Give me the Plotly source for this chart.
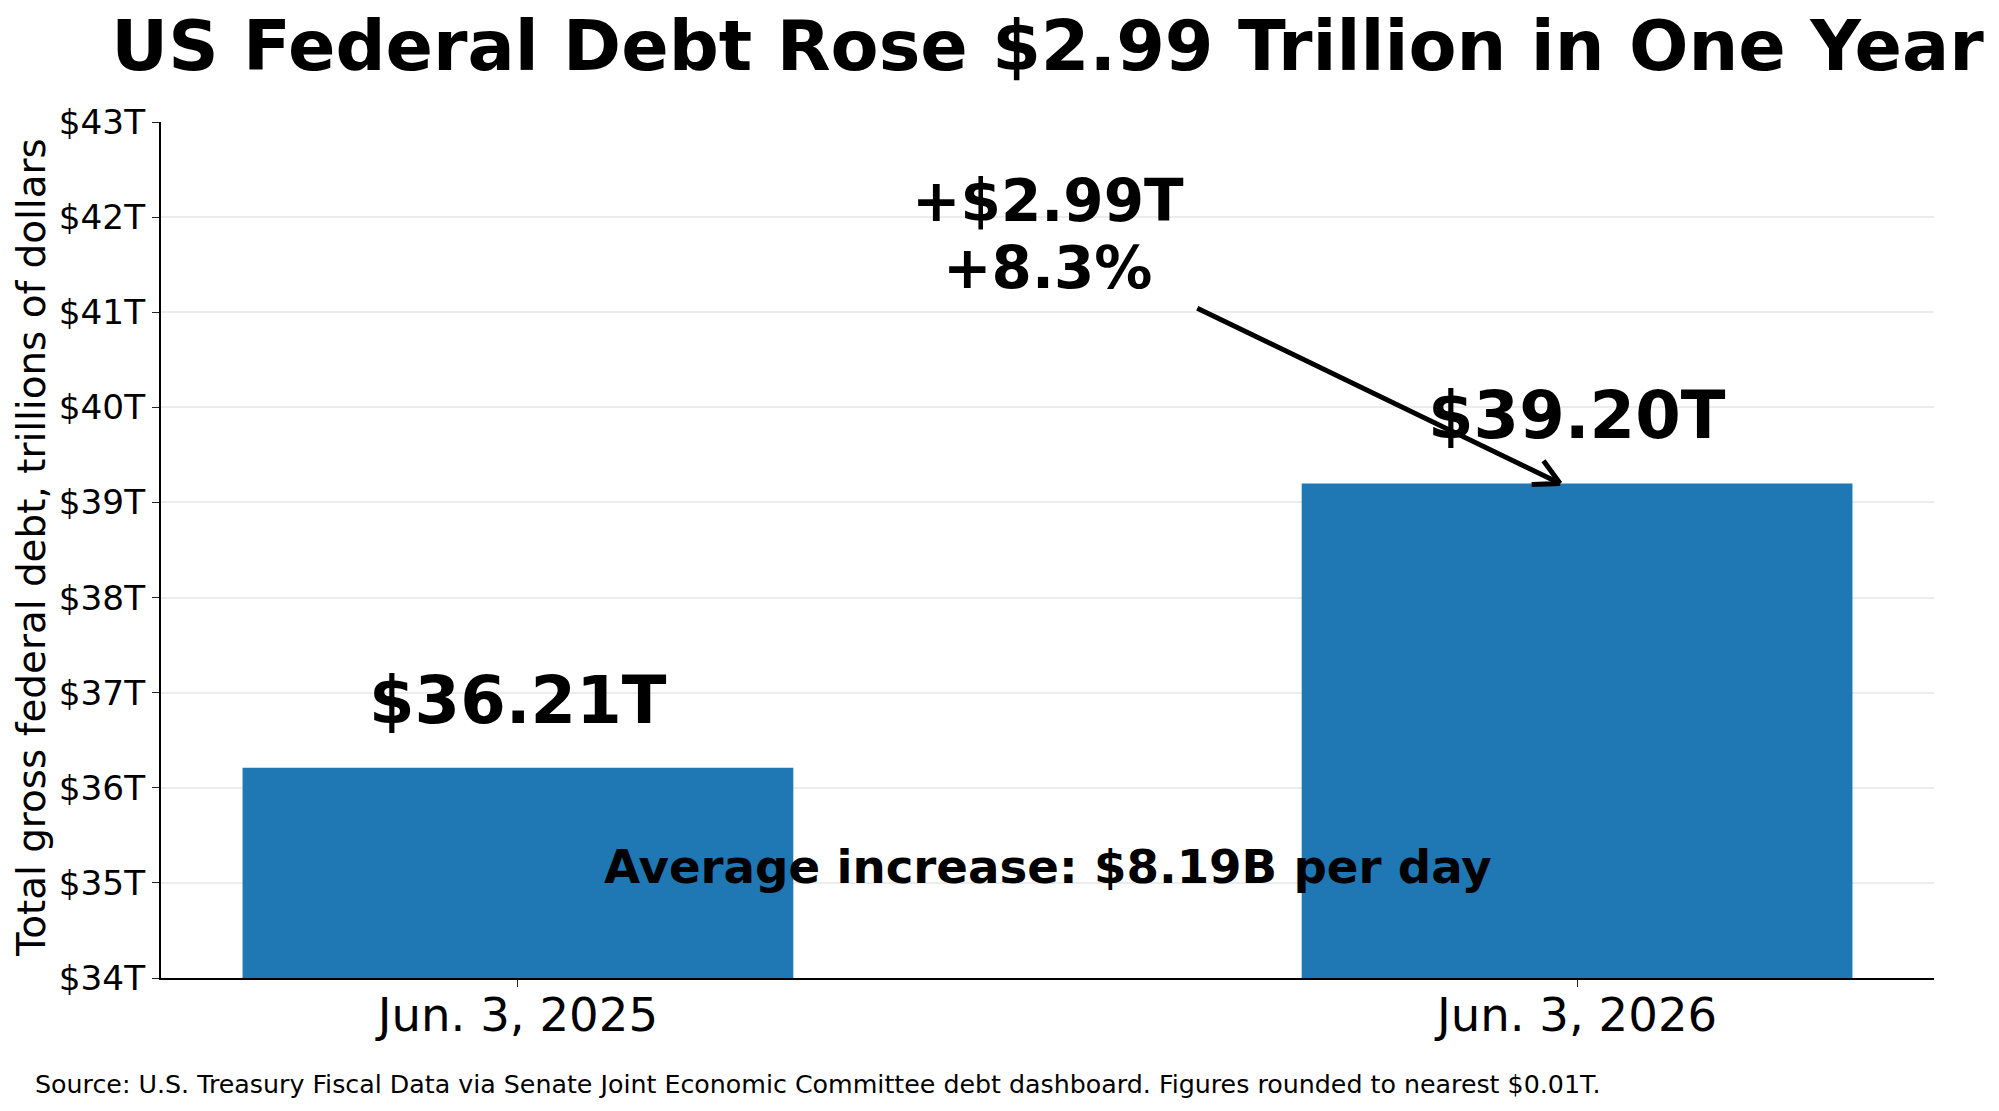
import math
import plotly.graph_objects as go

# ---- data ----
dates = ["Jun. 3, 2025", "Jun. 3, 2026"]
debt_trillions = [36.21, 39.20]
change_trillions = 2.99
change_pct = 8.3
avg_per_day_billions = 8.19
y_tick_values = [34, 35, 36, 37, 38, 39, 40, 41, 42, 43]
y_tick_labels = ["$34T", "$35T", "$36T", "$37T", "$38T", "$39T", "$40T", "$41T", "$42T", "$43T"]

title_text = "US Federal Debt Rose $2.99 Trillion in One Year"
y_title = "Total gross federal debt, trillions of dollars"
source_text = ("Source: U.S. Treasury Fiscal Data via Senate Joint Economic Committee debt "
               "dashboard. Figures rounded to nearest $0.01T.")

# ---- layout geometry ----
W, H = 1999, 1111
ML, MR, MT, MB = 161, 65, 122, 133
PW, PH = W - ML - MR, H - MT - MB
FONT = "DejaVu Sans"
BLUE = "#1f77b4"
bar_width = 0.52
x_range = [-0.337, 1.337]
y_range = [34, 43]

fig = go.Figure()
fig.add_trace(go.Bar(
    x=[0, 1], y=debt_trillions, width=bar_width,
    marker=dict(color=BLUE, line=dict(width=0)),
    base=0, hoverinfo="skip",
))

annotations = []
# value labels above bars
for i, v in enumerate(debt_trillions):
    annotations.append(dict(
        x=i, y=v, xref="x", yref="y", text=f"${v:.2f}T", showarrow=False,
        xanchor="center", yanchor="middle", yshift=68,
        font=dict(family=FONT, size=65.5, color="black", weight="bold"),
    ))

# change text
annotations.append(dict(
    x=0.5, y=42.17, xref="x", yref="y", text=f"+${change_trillions:.2f}T", showarrow=False,
    xanchor="center", yanchor="middle",
    font=dict(family=FONT, size=58, color="black", weight="bold"),
))
annotations.append(dict(
    x=0.5, y=41.47, xref="x", yref="y", text=f"+{change_pct:.1f}%", showarrow=False,
    xanchor="center", yanchor="middle",
    font=dict(family=FONT, size=58, color="black", weight="bold"),
))

# arrow
tip_x, tip_y = 0.984, debt_trillions[1]
tail_x, tail_y = 0.64, 41.05
annotations.append(dict(
    x=tip_x, y=tip_y, xref="x", yref="y", ax=tail_x, ay=tail_y, axref="x", ayref="y",
    text="", showarrow=True, arrowhead=0, arrowwidth=5, arrowcolor="black", standoff=0,
))
# open arrow head
px_per_x = PW / (x_range[1] - x_range[0])
px_per_y = PH / (y_range[1] - y_range[0])
dx = (tip_x - tail_x) * px_per_x
dy = -(tip_y - tail_y) * px_per_y
ang = math.atan2(dy, dx)
head_len = 30
for s in (+1, -1):
    a = ang + math.pi + s * math.radians(28)
    annotations.append(dict(
        x=tip_x, y=tip_y, xref="x", yref="y",
        ax=head_len * math.cos(a), ay=head_len * math.sin(a),
        text="", showarrow=True, arrowhead=0, arrowwidth=5, arrowcolor="black", standoff=0,
    ))

# average increase
annotations.append(dict(
    x=0.5, y=35.17, xref="x", yref="y",
    text=f"Average increase: ${avg_per_day_billions:.2f}B per day", showarrow=False,
    xanchor="center", yanchor="middle",
    font=dict(family=FONT, size=46.7, color="black", weight="bold"),
))

# y-axis title
annotations.append(dict(
    x=(31 - ML) / PW, y=(H - MB - 548) / PH, xref="paper", yref="paper",
    text=y_title, showarrow=False, textangle=-90,
    xanchor="center", yanchor="middle",
    font=dict(family=FONT, size=38.9, color="black"),
))

# source
annotations.append(dict(
    x=(33 - ML) / PW, y=(H - MB - 1084) / PH, xref="paper", yref="paper",
    text=source_text, showarrow=False, xanchor="left", yanchor="middle",
    font=dict(family=FONT, size=25.3, color="black"),
))

fig.update_layout(
    width=W, height=H,
    margin=dict(l=ML, r=MR, t=MT, b=MB, pad=0),
    paper_bgcolor="white", plot_bgcolor="white",
    showlegend=False,
    font=dict(family=FONT, color="black"),
    title=dict(
        text=title_text, x=(ML + PW / 2) / W, xanchor="center",
        y=1 - 45 / H, yanchor="middle", yref="container",
        font=dict(family=FONT, size=70, color="black", weight="bold"),
    ),
    xaxis=dict(
        range=x_range, tickmode="array", tickvals=[0, 1], ticktext=dates,
        showgrid=False, zeroline=False,
        showline=True, linecolor="black", linewidth=2,
        ticks="outside", ticklen=7, tickwidth=1.3, tickcolor="#222222",
        tickfont=dict(family=FONT, size=46.6, color="black"),
        ticklabelstandoff=-12,
        fixedrange=True,
    ),
    yaxis=dict(
        range=y_range, tickmode="array", tickvals=y_tick_values, ticktext=y_tick_labels,
        showgrid=True, gridcolor="#ececec", gridwidth=1.5, zeroline=False,
        showline=True, linecolor="black", linewidth=2,
        ticks="outside", ticklen=7, tickwidth=1.3, tickcolor="#222222",
        tickfont=dict(family=FONT, size=34.3, color="black"),
        fixedrange=True,
    ),
    annotations=annotations,
)

fig.write_html("out.html")
